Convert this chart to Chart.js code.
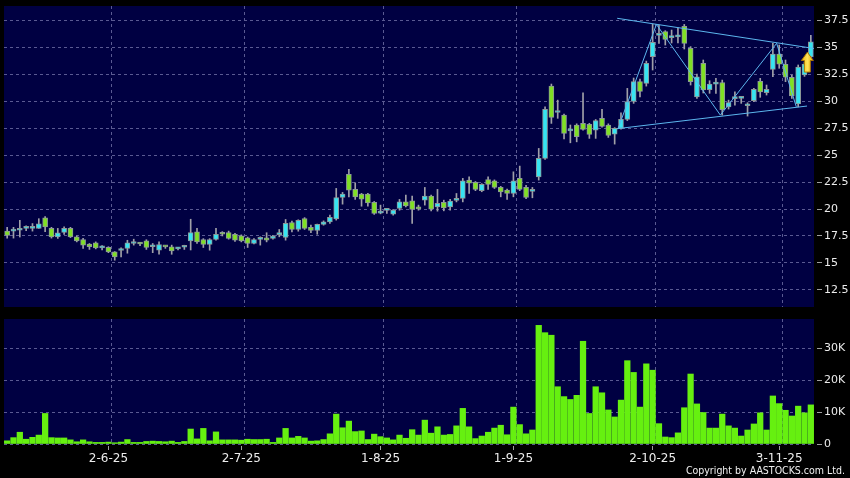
<!DOCTYPE html>
<html>
<head>
<meta charset="utf-8">
<script src="https://cdn.jsdelivr.net/npm/chart.js@4.4.1/dist/chart.umd.min.js"></script>
<style>
  html, body { margin: 0; padding: 0; background: #000; }
  #wrap { position: relative; width: 850px; height: 478px; overflow: hidden; background: #000; }
  canvas { position: absolute; left: 0; }
  #priceCanvas { top: 0; }
  #volCanvas { top: 312px; }
  #copy { position: absolute; right: 5px; top: 464px; font: 10.5px "DejaVu Sans Condensed", "DejaVu Sans", sans-serif; color: #f0f0f0; white-space: nowrap; }
</style>
</head>
<body>
<div id="wrap">
  <canvas id="priceCanvas" width="850" height="312"></canvas>
  <canvas id="volCanvas" width="850" height="166"></canvas>
  <div id="copy">Copyright by AASTOCKS.com Ltd.</div>
</div>
<script>
// ===============================
// DATA (daily bars, 8-5-25 .. 10-11-25)
// ===============================
const opens = [
  17.95, 17.95, 18.03, 18.20, 18.20, 18.20, 19.18, 18.20, 17.42, 17.82,
  18.20, 17.42, 17.17, 16.74, 16.86, 16.40, 16.45, 16.02, 16.15, 16.34,
  16.80, 16.78, 17.04, 16.50, 16.18, 16.50, 16.49, 16.30, 16.45, 17.04,
  17.88, 17.17, 16.71, 17.17, 17.82, 17.82, 17.64, 17.50, 17.32, 16.80,
  17.18, 17.32, 17.27, 17.62, 17.36, 18.75, 18.10, 19.12, 18.29, 18.01,
  18.57, 18.81, 19.09, 21.07, 23.21, 21.82, 21.38, 21.38, 20.61, 19.62,
  19.88, 19.52, 20.05, 20.66, 20.76, 20.20, 20.82, 21.19, 20.20, 20.61,
  20.20, 20.80, 20.98, 22.68, 22.47, 21.69, 22.74, 22.61, 22.00, 21.75,
  21.44, 22.84, 22.00, 21.64, 22.98, 24.69, 31.41, 28.95, 28.71, 27.24,
  27.79, 27.94, 27.85, 27.32, 28.41, 27.79, 26.93, 27.48, 28.31, 29.97,
  31.81, 31.66, 34.13, 36.10, 36.45, 35.90, 35.96, 36.95, 34.91, 30.39,
  33.51, 31.08, 31.58, 31.73, 29.48, 30.24, 30.26, 29.58, 30.06, 31.85,
  30.80, 32.94, 34.36, 33.42, 32.22, 29.74, 32.43, 34.10
];
const highs = [
  18.30, 18.30, 18.95, 18.45, 18.65, 19.10, 19.30, 18.30, 18.20, 18.35,
  18.30, 17.50, 17.27, 16.80, 16.95, 16.60, 16.50, 16.05, 16.40, 17.10,
  17.20, 16.90, 17.15, 16.80, 16.95, 16.60, 16.65, 16.45, 16.64, 19.05,
  18.20, 17.25, 17.25, 18.20, 17.90, 17.95, 17.75, 17.60, 17.40, 17.25,
  17.42, 17.80, 17.55, 18.10, 19.03, 18.87, 19.00, 19.20, 18.50, 18.60,
  18.90, 19.43, 21.91, 21.54, 23.67, 22.43, 21.45, 21.45, 20.70, 20.36,
  20.05, 19.95, 20.89, 21.29, 21.20, 20.36, 22.00, 21.30, 21.82, 20.82,
  20.89, 21.44, 22.84, 22.99, 22.55, 22.35, 22.99, 22.70, 22.10, 21.85,
  23.45, 23.98, 22.20, 22.00, 25.62, 29.48, 31.59, 30.10, 28.80, 27.79,
  27.90, 30.78, 27.95, 28.30, 29.24, 27.90, 27.55, 28.93, 31.19, 32.15,
  32.05, 33.72, 37.14, 37.07, 36.54, 36.60, 36.80, 37.12, 35.06, 32.52,
  33.82, 31.90, 32.12, 31.96, 30.10, 30.88, 30.35, 29.86, 31.20, 32.12,
  31.50, 35.37, 35.21, 33.82, 32.43, 33.36, 33.60, 36.10
];
const lows = [
  17.30, 17.30, 17.40, 18.00, 17.95, 18.20, 17.90, 17.30, 17.27, 17.65,
  17.35, 16.95, 16.35, 16.25, 16.30, 16.20, 15.95, 15.25, 15.55, 15.90,
  16.65, 16.60, 16.25, 15.95, 15.80, 16.35, 15.80, 16.20, 16.25, 16.20,
  16.80, 16.43, 16.18, 17.10, 17.50, 17.20, 17.00, 16.95, 16.43, 16.75,
  16.65, 16.95, 17.20, 17.42, 17.11, 17.88, 17.94, 18.10, 17.80, 17.66,
  18.50, 18.66, 18.97, 20.45, 21.13, 20.89, 20.26, 20.26, 19.50, 19.55,
  19.60, 19.43, 19.89, 20.20, 18.66, 19.89, 20.36, 19.83, 19.80, 19.83,
  19.89, 20.66, 20.66, 21.44, 21.70, 21.60, 21.82, 21.90, 21.13, 20.89,
  21.13, 21.70, 20.95, 21.04, 22.68, 24.60, 27.94, 28.41, 26.49, 26.14,
  26.23, 27.32, 26.55, 26.55, 27.60, 26.64, 26.02, 27.40, 28.20, 29.80,
  30.40, 31.40, 32.89, 35.37, 35.21, 35.40, 35.40, 34.84, 31.50, 30.26,
  30.76, 30.73, 30.73, 28.71, 29.27, 29.64, 29.80, 28.62, 29.95, 30.36,
  30.57, 32.27, 33.05, 31.81, 30.26, 29.48, 32.30, 33.95
];
const closes = [
  17.55, 18.00, 18.20, 18.20, 18.22, 18.62, 18.34, 17.42, 17.79, 18.20,
  17.42, 17.05, 16.64, 16.50, 16.40, 16.40, 16.02, 15.56, 16.20, 16.86,
  16.82, 16.75, 16.43, 16.50, 16.71, 16.48, 16.12, 16.35, 16.50, 17.82,
  16.95, 16.71, 17.17, 17.64, 17.66, 17.27, 17.11, 17.04, 16.80, 17.17,
  17.20, 17.11, 17.48, 17.66, 18.66, 18.10, 18.94, 18.20, 18.01, 18.57,
  18.81, 19.22, 21.07, 21.38, 21.75, 21.13, 20.91, 20.57, 19.59, 19.65,
  19.90, 19.89, 20.66, 20.29, 19.96, 20.00, 21.19, 19.99, 20.52, 20.11,
  20.73, 20.83, 22.61, 22.40, 21.82, 22.28, 22.28, 22.00, 21.59, 21.44,
  22.61, 21.82, 21.07, 21.68, 24.69, 29.24, 28.50, 29.00, 27.01, 27.27,
  26.70, 27.39, 26.92, 28.20, 27.66, 26.83, 27.48, 28.31, 29.97, 31.82,
  30.91, 33.51, 35.46, 36.13, 35.74, 35.93, 36.00, 35.37, 31.82, 32.27,
  31.04, 31.59, 31.60, 29.22, 29.87, 30.27, 30.27, 29.62, 31.10, 30.85,
  31.10, 34.36, 33.43, 32.22, 30.48, 33.17, 33.45, 35.50
];
// volume, thousands of shares
const volumes = [
  1.0, 2.0, 3.7, 1.5, 2.1, 2.8, 9.6, 2.0, 1.9, 1.9,
  1.3, 0.7, 1.3, 0.7, 0.5, 0.5, 0.6, 0.4, 0.6, 1.4,
  0.5, 0.5, 0.8, 0.9, 0.8, 0.7, 0.9, 0.5, 0.8, 4.7,
  1.6, 4.9, 1.0, 3.8, 1.3, 1.3, 1.3, 1.2, 1.5, 1.4,
  1.4, 1.5, 0.5, 1.9, 4.9, 1.9, 2.4, 1.9, 0.9, 1.0,
  1.4, 3.2, 9.4, 5.1, 7.2, 3.9, 4.1, 1.4, 3.1, 2.3,
  1.9, 1.3, 2.8, 1.8, 4.5, 2.8, 7.5, 3.4, 5.4, 2.8,
  3.0, 5.7, 11.2, 5.4, 1.7, 2.5, 3.7, 5.0, 5.9, 2.9,
  11.6, 6.1, 3.2, 4.4, 37.3, 35.0, 34.2, 18.0, 14.9, 14.0,
  15.3, 32.3, 9.6, 18.0, 16.1, 10.7, 8.5, 13.8, 26.2, 22.5,
  11.6, 25.2, 23.2, 6.4, 2.2, 2.0, 3.5, 11.4, 22.0, 12.6,
  9.9, 5.0, 5.0, 9.4, 5.7, 5.0, 2.5, 4.4, 6.3, 9.8,
  4.4, 15.1, 12.7, 10.6, 8.8, 11.9, 9.8, 12.3
];

// first bar of each month and its label
const monthStart = [16, 37, 59, 80, 102, 122];
const monthLabels = ["2-6-25", "2-7-25", "1-8-25", "1-9-25", "2-10-25", "3-11-25"];

const priceTicks = [12.5, 15, 17.5, 20, 22.5, 25, 27.5, 30, 32.5, 35, 37.5];
const volTicks = [0, 10, 20, 30];

// drawn trend lines: [bar index, price]
const upperLine = [[96.4, 37.69], [127.5, 34.89]];
const lowerLine = [[96.4, 27.45], [126.4, 29.55]];
const zigzag = [[96.5, 27.41], [102.6, 37.12], [112.7, 28.71], [121.6, 35.37], [124.7, 29.48]];
// yellow arrow: bar index, bottom price, top price
const arrowAt = [126.45, 32.7, 34.55];

// ===============================
// STYLE
// ===============================
const NAVY = "#000042";
const GRID = "#5a5a92";
const UP = "#36e4f2";
const DOWN = "#80e024";
const EDGE = "#8c9898";
const WICK = "#a0a0a8";
const TREND = "#5cb6ee";
const FONT = "'DejaVu Sans', sans-serif";
const nBars = opens.length;

const plotBg = {
  id: "plotBg",
  beforeDraw(chart) {
    const { ctx, chartArea: a } = chart;
    ctx.save();
    ctx.fillStyle = NAVY;
    ctx.fillRect(a.left, a.top, a.right - a.left, a.bottom - a.top);
    ctx.restore();
  }
};

const arrowPlugin = {
  id: "arrow",
  afterDatasetsDraw(chart) {
    const { ctx, scales } = chart;
    const cx = scales.x.getPixelForValue(arrowAt[0]);
    const yb = scales.y.getPixelForValue(arrowAt[1]);
    const yt = scales.y.getPixelForValue(arrowAt[2]);
    const yh = yt + (yb - yt) * 0.42;
    ctx.save();
    ctx.beginPath();
    ctx.moveTo(cx, yt);
    ctx.lineTo(cx + 6, yh);
    ctx.lineTo(cx + 3, yh);
    ctx.lineTo(cx + 3, yb);
    ctx.lineTo(cx - 3, yb);
    ctx.lineTo(cx - 3, yh);
    ctx.lineTo(cx - 6, yh);
    ctx.closePath();
    const g = ctx.createLinearGradient(cx - 6, 0, cx + 6, 0);
    g.addColorStop(0, "#f0b400");
    g.addColorStop(0.5, "#ffe35a");
    g.addColorStop(1, "#e8a800");
    ctx.fillStyle = g;
    ctx.fill();
    ctx.strokeStyle = "#a87400";
    ctx.lineWidth = 1;
    ctx.stroke();
    ctx.restore();
  }
};

function monthGrid(s) { s.ticks = monthStart.map(v => ({ value: v + 0.5 })); }

function xGridAxis() {
  return {
    type: "linear", min: -0.5, max: nBars - 0.5, offset: false,
    grid: { color: GRID, offset: false, drawTicks: false },
    border: { display: false, dash: [3, 3] },
    ticks: { display: false },
    afterBuildTicks: monthGrid,
    afterFit: s => { s.height = 0; s.paddingLeft = 0; s.paddingRight = 0; }
  };
}

function yAxis(min, max, ticks, fmt) {
  return {
    position: "right", min, max,
    grid: { color: GRID, tickLength: 8, tickColor: "#a0a0a0", tickBorderDash: [5, 3], tickBorderDashOffset: 5 },
    border: { display: false, dash: [3, 3] },
    ticks: { color: "#ececec", font: { family: FONT, size: 11 }, padding: 2, callback: fmt },
    afterBuildTicks: s => { s.ticks = ticks.map(v => ({ value: v })); },
    afterFit: s => { s.width = 36; s.paddingTop = 0; s.paddingBottom = 0; }
  };
}

const pts = arr => arr.map(p => ({ x: p[0], y: p[1] }));
const trend = arr => ({ type: "line", data: pts(arr), borderColor: TREND, borderWidth: 1, pointRadius: 0, order: 0 });

// ===============================
// PRICE CHART
// ===============================
const idx = opens.map((_, i) => i);

new Chart(document.getElementById("priceCanvas"), {
  type: "bar",
  data: {
    datasets: [
      trend(upperLine),
      trend(lowerLine),
      trend(zigzag),
      {
        data: idx.map(i => ({ x: i, y: [opens[i], closes[i]] })),
        backgroundColor: idx.map(i => closes[i] >= opens[i] ? UP : DOWN),
        borderColor: EDGE, borderWidth: 1, borderSkipped: false,
        barThickness: 5, minBarLength: 2, grouped: false, order: 1
      },
      {
        data: idx.map(i => ({ x: i, y: [lows[i], highs[i]] })),
        backgroundColor: WICK, borderWidth: 0,
        barThickness: 1, grouped: false, order: 2
      }
    ]
  },
  options: {
    responsive: false, animation: false, events: [],
    layout: { padding: { left: 4, top: 6, bottom: 5, right: 0 } },
    plugins: { legend: { display: false }, tooltip: { enabled: false } },
    scales: {
      x: xGridAxis(),
      y: yAxis(10.91, 38.83, priceTicks, v => String(v))
    }
  },
  plugins: [plotBg, arrowPlugin]
});

// ===============================
// VOLUME CHART
// ===============================
new Chart(document.getElementById("volCanvas"), {
  type: "bar",
  data: {
    datasets: [{
      data: idx.map(i => ({ x: i, y: volumes[i] })),
      backgroundColor: "#66f010", borderWidth: 0, barThickness: 5.6
    }]
  },
  options: {
    responsive: false, animation: false, events: [],
    layout: { padding: { left: 4, top: 7, bottom: 0, right: 0 } },
    plugins: { legend: { display: false }, tooltip: { enabled: false } },
    scales: {
      x: xGridAxis(),
      x2: {
        type: "linear", position: "bottom", min: -0.5, max: nBars - 0.5, offset: false,
        grid: { offset: false, drawOnChartArea: false, tickLength: 6, tickColor: "#a0a0a0", tickBorderDash: [4, 2], tickBorderDashOffset: 4 },
        border: { display: false },
        ticks: {
          color: "#ececec", font: { family: FONT, size: 12 }, padding: 2,
          maxRotation: 0, autoSkip: false, callback: (v, i) => monthLabels[i]
        },
        afterBuildTicks: s => { s.ticks = monthStart.map(v => ({ value: v })); },
        afterFit: s => { s.height = 34; s.paddingLeft = 0; s.paddingRight = 0; }
      },
      y: yAxis(0, 39.3, volTicks, v => v === 0 ? "0" : v + "K")
    }
  },
  plugins: [plotBg]
});
</script>
</body>
</html>
